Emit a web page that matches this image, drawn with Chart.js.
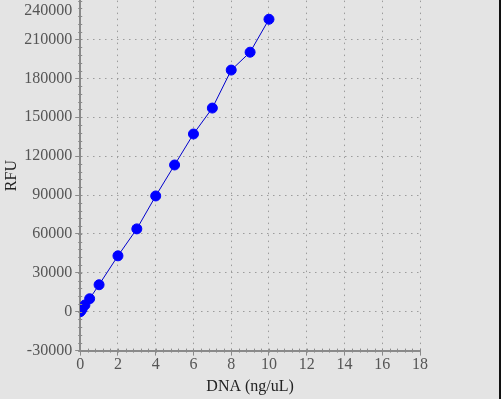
<!DOCTYPE html>
<html>
<head>
<meta charset="utf-8">
<script src="https://cdn.jsdelivr.net/npm/chart.js@4/dist/chart.umd.min.js"></script>
<style>
  html, body { margin: 0; padding: 0; background: #e4e4e4; }
  #wrap { position: relative; width: 501px; height: 399px; overflow: hidden; }
  #dnaChart { position: absolute; left: 0; top: -12px; }
  #edge { position: absolute; right: 0; top: 0; width: 2px; height: 399px; background: #111; }
</style>
</head>
<body>
<div id="wrap">
  <canvas id="dnaChart" width="501" height="411"></canvas>
  <div id="edge"></div>
</div>
<script>
var dnaConc = [0, 0.05, 0.1, 0.25, 0.5, 1, 2, 3, 4, 5, 6, 7, 8, 9, 10];
var rfuValues = [0, 1000, 2100, 5200, 10000, 20800, 43100, 63900, 89300, 113200, 137100, 157100, 186400, 200200, 225600];
var xTicks = [0, 2, 4, 6, 8, 10, 12, 14, 16, 18];
var yTicks = [-30000, 0, 30000, 60000, 90000, 120000, 150000, 180000, 210000, 240000];

var fontFamily = '"Liberation Serif", "Times New Roman", serif';
var tickGray = '#555';
var axisGray = '#8a8a8a';
var gridGray = '#9c9c9c';

var points = [];
for (var i = 0; i < dnaConc.length; i++) {
    points.push({ x: dnaConc[i], y: rfuValues[i] });
}

// minor ticks on the axis lines + top y label pushed inside the window
var axisExtras = {
    id: 'axisExtras',
    afterDraw: function (chart) {
        var ctx = chart.ctx;
        var xs = chart.scales.x, ys = chart.scales.y;
        ctx.save();
        ctx.strokeStyle = axisGray;
        ctx.lineWidth = 1;
        for (var v = xs.min; v <= xs.max + 1e-9; v += 0.4) {
            var px = Math.round(xs.getPixelForValue(v)) + 0.5;
            ctx.beginPath();
            ctx.moveTo(px, ys.bottom - 2);
            ctx.lineTo(px, ys.bottom + 2);
            ctx.stroke();
        }
        for (var w = ys.min; w <= ys.max + 1e-9; w += 6000) {
            var py = Math.round(ys.getPixelForValue(w)) + 0.5;
            ctx.beginPath();
            ctx.moveTo(xs.left - 2, py);
            ctx.lineTo(xs.left + 2, py);
            ctx.stroke();
        }
        var top = yTicks[yTicks.length - 1];
        ctx.fillStyle = tickGray;
        ctx.font = '16px ' + fontFamily;
        ctx.textAlign = 'right';
        ctx.textBaseline = 'middle';
        ctx.fillText(String(top), xs.left - 8, ys.getPixelForValue(top) + 10);
        ctx.restore();
    }
};

new Chart(document.getElementById('dnaChart'), {
    type: 'scatter',
    data: {
        datasets: [{
            label: 'RFU',
            data: points,
            showLine: true,
            borderColor: '#0000cc',
            borderWidth: 1,
            backgroundColor: '#0000ff',
            pointBackgroundColor: '#0000ff',
            pointBorderColor: '#0000ff',
            pointRadius: 5,
            pointBorderWidth: 1
        }]
    },
    options: {
        responsive: false,
        animation: false,
        layout: { padding: { left: 2, right: 81, top: 0, bottom: 3 } },
        plugins: {
            legend: { display: false },
            tooltip: { enabled: false }
        },
        scales: {
            x: {
                type: 'linear',
                min: 0,
                max: 18,
                afterBuildTicks: function (axis) {
                    axis.ticks = xTicks.map(function (v) { return { value: v }; });
                },
                border: { color: axisGray, width: 2, dash: [1.5, 4.5] },
                grid: {
                    color: gridGray,
                    tickBorderDash: [],
                    tickColor: axisGray,
                    tickLength: 5,
                    tickWidth: 1
                },
                ticks: {
                    color: tickGray,
                    font: { family: fontFamily, size: 16 },
                    padding: 0,
                    maxRotation: 0
                },
                title: {
                    display: true,
                    text: 'DNA (ng/uL)',
                    color: '#222',
                    font: { family: fontFamily, size: 16 },
                    padding: { top: 2, bottom: 0 }
                }
            },
            y: {
                type: 'linear',
                min: -30000,
                max: 240000,
                afterBuildTicks: function (axis) {
                    axis.ticks = yTicks.map(function (v) { return { value: v }; });
                },
                border: { color: axisGray, width: 2, dash: [1.5, 4.5] },
                grid: {
                    color: gridGray,
                    tickBorderDash: [],
                    tickColor: axisGray,
                    tickLength: 5,
                    tickWidth: 1
                },
                ticks: {
                    color: tickGray,
                    font: { family: fontFamily, size: 16 },
                    padding: 3,
                    callback: function (value) {
                        if (value === yTicks[yTicks.length - 1]) return null;
                        return String(value);
                    }
                },
                title: {
                    display: true,
                    text: 'RFU',
                    color: '#222',
                    font: { family: fontFamily, size: 16 },
                    padding: { top: 0, bottom: 0 }
                }
            }
        }
    },
    plugins: [axisExtras]
});
</script>
</body>
</html>
